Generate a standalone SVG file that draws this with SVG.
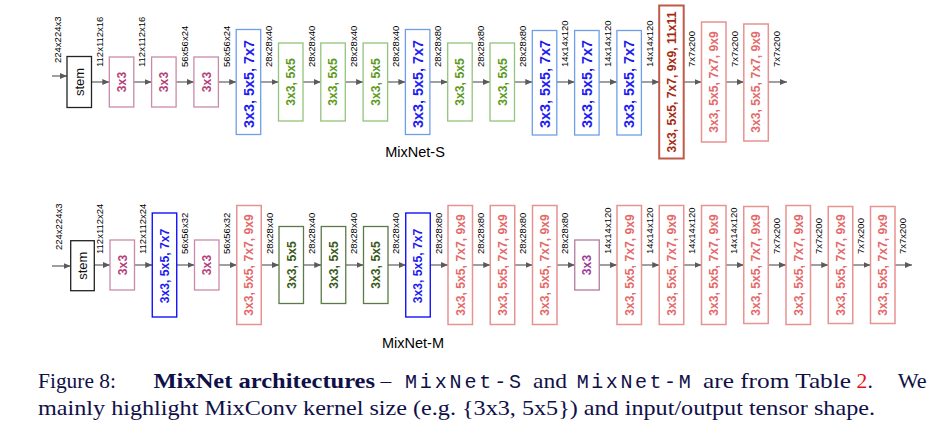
<svg xmlns="http://www.w3.org/2000/svg" width="948" height="446" viewBox="0 0 948 446">
<defs>
<marker id="ah" markerUnits="userSpaceOnUse" markerWidth="8" markerHeight="6" refX="7" refY="3" orient="auto">
<path d="M0,0 L7,3 L0,6 z" fill="#5a5a5a"/>
</marker>
<style>
.lbl{font-family:"Liberation Sans",Arial,sans-serif;font-size:9.5px;fill:#000}
.bt{font-family:"Liberation Sans",Arial,sans-serif;font-size:12.2px;font-weight:bold;text-anchor:middle}
.big{font-size:14.4px}
.box{fill:#fff;stroke-width:1.3}
.stem{stroke:#222}
.stemt{fill:#111;font-weight:normal;font-size:13px}
.m{stroke:#c98aa9}.mt{fill:#b5407a}
.p3{stroke:#b47aa0}.p3t{fill:#9c3c9a}
.b1{stroke:#6d9eeb}.bt1{fill:#1c1cf0}
.b2{stroke:#0000ff}.bt2{fill:#1c1cf0}
.g1{stroke:#93c47d}.gt1{fill:#5b9a22}
.g2{stroke:#5a7a48}.gt2{fill:#3a5a1a}
.dr{stroke:#c05a48;stroke-width:2}.drt{fill:#a62a10}
.pk{stroke:#e89292;stroke-width:1.5}.pkt{fill:#e46a6a}
.ar{stroke:#606060;stroke-width:1.2;fill:none;marker-end:url(#ah)}
.title{font-family:"Liberation Sans",Arial,sans-serif;font-size:14.5px;fill:#000;text-anchor:middle}
.cap{font-family:"Liberation Serif","Times New Roman",serif;font-size:21.5px;fill:#101048}
.mono{font-family:"Liberation Mono","Courier New",monospace;font-size:20px;fill:#101048}
</style>
</defs>

<g id="connectors">
<line class="ar" x1="52" y1="76" x2="67" y2="76"/>
<line class="ar" x1="91.5" y1="82" x2="109.3" y2="82"/>
<line class="ar" x1="133.8" y1="82" x2="151.6" y2="82"/>
<line class="ar" x1="176.1" y1="82" x2="193.9" y2="82"/>
<line class="ar" x1="218.4" y1="82" x2="236.2" y2="82"/>
<line class="ar" x1="260.7" y1="82" x2="278.5" y2="82"/>
<line class="ar" x1="303" y1="82" x2="320.8" y2="82"/>
<line class="ar" x1="345.3" y1="82" x2="363.1" y2="82"/>
<line class="ar" x1="387.6" y1="82" x2="405.4" y2="82"/>
<line class="ar" x1="429.9" y1="82" x2="447.7" y2="82"/>
<line class="ar" x1="472.2" y1="82" x2="490" y2="82"/>
<line class="ar" x1="514.5" y1="82" x2="532.3" y2="82"/>
<line class="ar" x1="556.8" y1="82" x2="574.6" y2="82"/>
<line class="ar" x1="599.1" y1="82" x2="616.9" y2="82"/>
<line class="ar" x1="641.4" y1="82" x2="659.2" y2="82"/>
<line class="ar" x1="683.7" y1="82" x2="701.5" y2="82"/>
<line class="ar" x1="726" y1="82" x2="743.8" y2="82"/>
<line class="ar" x1="768.3" y1="82" x2="787" y2="82"/>

<line class="ar" x1="52" y1="266" x2="70.7" y2="266"/>
<line class="ar" x1="94.3" y1="265" x2="110" y2="265"/>
<line class="ar" x1="134.5" y1="265" x2="152.25" y2="265"/>
<line class="ar" x1="176.75" y1="265" x2="194.5" y2="265"/>
<line class="ar" x1="219" y1="265" x2="236.75" y2="265"/>
<line class="ar" x1="261.25" y1="265" x2="279" y2="265"/>
<line class="ar" x1="303.5" y1="265" x2="321.25" y2="265"/>
<line class="ar" x1="345.75" y1="265" x2="363.5" y2="265"/>
<line class="ar" x1="388" y1="265" x2="405.75" y2="265"/>
<line class="ar" x1="430.25" y1="265" x2="448" y2="265"/>
<line class="ar" x1="472.5" y1="265" x2="490.25" y2="265"/>
<line class="ar" x1="514.75" y1="265" x2="532.5" y2="265"/>
<line class="ar" x1="557" y1="265" x2="574.75" y2="265"/>
<line class="ar" x1="599.25" y1="265" x2="617" y2="265"/>
<line class="ar" x1="641.5" y1="265" x2="659.25" y2="265"/>
<line class="ar" x1="683.75" y1="265" x2="701.5" y2="265"/>
<line class="ar" x1="726" y1="265" x2="743.75" y2="265"/>
<line class="ar" x1="768.25" y1="265" x2="786" y2="265"/>
<line class="ar" x1="810.5" y1="265" x2="828.25" y2="265"/>
<line class="ar" x1="852.75" y1="265" x2="870.5" y2="265"/>
<line class="ar" x1="895" y1="265" x2="912" y2="265"/>
</g>

<g id="labels-s">
<text class="lbl" transform="translate(61.3,63) rotate(-90)">224x224x3</text>
<text class="lbl" transform="translate(103,67) rotate(-90)">112x112x16</text>
<text class="lbl" transform="translate(145.3,67) rotate(-90)">112x112x16</text>
<text class="lbl" transform="translate(187.6,67) rotate(-90)">56x56x24</text>
<text class="lbl" transform="translate(229.9,67) rotate(-90)">56x56x24</text>
<text class="lbl" transform="translate(272.2,67) rotate(-90)">28x28x40</text>
<text class="lbl" transform="translate(314.5,67) rotate(-90)">28x28x40</text>
<text class="lbl" transform="translate(356.8,67) rotate(-90)">28x28x40</text>
<text class="lbl" transform="translate(399.1,67) rotate(-90)">28x28x40</text>
<text class="lbl" transform="translate(441.4,67) rotate(-90)">28x28x80</text>
<text class="lbl" transform="translate(483.7,67) rotate(-90)">28x28x80</text>
<text class="lbl" transform="translate(526,67) rotate(-90)">28x28x80</text>
<text class="lbl" transform="translate(568.3,67) rotate(-90)">14x14x120</text>
<text class="lbl" transform="translate(610.6,67) rotate(-90)">14x14x120</text>
<text class="lbl" transform="translate(652.9,67) rotate(-90)">14x14x120</text>
<text class="lbl" transform="translate(695.2,67) rotate(-90)">7x7x200</text>
<text class="lbl" transform="translate(737.5,67) rotate(-90)">7x7x200</text>
<text class="lbl" transform="translate(779.8,67) rotate(-90)">7x7x200</text>
</g>

<g id="s-stem"><rect class="box stem" x="67" y="56.5" width="24.5" height="51"/><text class="bt stemt" transform="translate(79.25,82) rotate(-90)" dy="0.36em">stem</text></g>
<g id="s-b1"><rect class="box m" x="109.3" y="57" width="24.5" height="50"/><text class="bt mt" transform="translate(121.55,82) rotate(-90)" dy="0.36em">3x3</text></g>
<g id="s-b2"><rect class="box m" x="151.6" y="57" width="24.5" height="50"/><text class="bt mt" transform="translate(163.85,82) rotate(-90)" dy="0.36em">3x3</text></g>
<g id="s-b3"><rect class="box m" x="193.9" y="57" width="24.5" height="50"/><text class="bt mt" transform="translate(206.15,82) rotate(-90)" dy="0.36em">3x3</text></g>
<g id="s-b4"><rect class="box b1" x="236.2" y="29.5" width="24.5" height="105"/><text class="bt big bt1" transform="translate(248.45,84) rotate(-90)" dy="0.36em">3x3, 5x5, 7x7</text></g>
<g id="s-b5"><rect class="box g1" x="278.5" y="43" width="24.5" height="78"/><text class="bt gt1" transform="translate(290.75,82) rotate(-90)" dy="0.36em">3x3, 5x5</text></g>
<g id="s-b6"><rect class="box g1" x="320.8" y="43" width="24.5" height="78"/><text class="bt gt1" transform="translate(333.05,82) rotate(-90)" dy="0.36em">3x3, 5x5</text></g>
<g id="s-b7"><rect class="box g1" x="363.1" y="43" width="24.5" height="78"/><text class="bt gt1" transform="translate(375.35,82) rotate(-90)" dy="0.36em">3x3, 5x5</text></g>
<g id="s-b8"><rect class="box b1" x="405.4" y="29.5" width="24.5" height="105"/><text class="bt big bt1" transform="translate(417.65,84) rotate(-90)" dy="0.36em">3x3, 5x5, 7x7</text></g>
<g id="s-b9"><rect class="box g1" x="447.7" y="43" width="24.5" height="78"/><text class="bt gt1" transform="translate(459.95,82) rotate(-90)" dy="0.36em">3x3, 5x5</text></g>
<g id="s-b10"><rect class="box g1" x="490" y="43" width="24.5" height="78"/><text class="bt gt1" transform="translate(502.25,82) rotate(-90)" dy="0.36em">3x3, 5x5</text></g>
<g id="s-b11"><rect class="box b1" x="532.3" y="30.5" width="24.5" height="104.5"/><text class="bt big bt1" transform="translate(544.55,84) rotate(-90)" dy="0.36em">3x3, 5x5, 7x7</text></g>
<g id="s-b12"><rect class="box b1" x="574.6" y="30.5" width="24.5" height="104.5"/><text class="bt big bt1" transform="translate(586.85,84) rotate(-90)" dy="0.36em">3x3, 5x5, 7x7</text></g>
<g id="s-b13"><rect class="box b1" x="616.9" y="30.5" width="24.5" height="104.5"/><text class="bt big bt1" transform="translate(629.15,84) rotate(-90)" dy="0.36em">3x3, 5x5, 7x7</text></g>
<g id="s-b14"><rect class="box dr" x="659.2" y="5.5" width="24.5" height="153"/><text class="bt drt" transform="translate(671.45,82) rotate(-90)" dy="0.36em">3x3, 5x5, 7x7, 9x9, 11x11</text></g>
<g id="s-b15"><rect class="box pk" x="701.5" y="22" width="24.5" height="120"/><text class="bt pkt" transform="translate(713.75,82) rotate(-90)" dy="0.36em">3x3, 5x5, 7x7, 9x9</text></g>
<g id="s-b16"><rect class="box pk" x="743.8" y="24" width="24.5" height="117"/><text class="bt pkt" transform="translate(756.05,82) rotate(-90)" dy="0.36em">3x3, 5x5, 7x7, 9x9</text></g>
<text id="title-s" class="title" x="415" y="157">MixNet-S</text>

<g id="labels-m">
<text class="lbl" transform="translate(61.6,250) rotate(-90)">224x224x3</text>
<text class="lbl" transform="translate(103.3,254) rotate(-90)">112x112x24</text>
<text class="lbl" transform="translate(145.8,254) rotate(-90)">112x112x24</text>
<text class="lbl" transform="translate(188,254) rotate(-90)">56x56x32</text>
<text class="lbl" transform="translate(230.3,254) rotate(-90)">56x56x32</text>
<text class="lbl" transform="translate(272.5,254) rotate(-90)">28x28x40</text>
<text class="lbl" transform="translate(314.8,254) rotate(-90)">28x28x40</text>
<text class="lbl" transform="translate(357,254) rotate(-90)">28x28x40</text>
<text class="lbl" transform="translate(399.3,254) rotate(-90)">28x28x40</text>
<text class="lbl" transform="translate(441.5,254) rotate(-90)">28x28x80</text>
<text class="lbl" transform="translate(483.8,254) rotate(-90)">28x28x80</text>
<text class="lbl" transform="translate(526,254) rotate(-90)">28x28x80</text>
<text class="lbl" transform="translate(568.3,254) rotate(-90)">28x28x80</text>
<text class="lbl" transform="translate(610.5,254) rotate(-90)">14x14x120</text>
<text class="lbl" transform="translate(652.8,254) rotate(-90)">14x14x120</text>
<text class="lbl" transform="translate(695,254) rotate(-90)">14x14x120</text>
<text class="lbl" transform="translate(737.3,254) rotate(-90)">14x14x120</text>
<text class="lbl" transform="translate(779.5,254) rotate(-90)">7x7x200</text>
<text class="lbl" transform="translate(821.8,254) rotate(-90)">7x7x200</text>
<text class="lbl" transform="translate(864,254) rotate(-90)">7x7x200</text>
<text class="lbl" transform="translate(906.3,254) rotate(-90)">7x7x200</text>
</g>

<g id="m-stem"><rect class="box stem" x="70.7" y="240.7" width="23.6" height="50"/><text class="bt stemt" transform="translate(82.5,265.7) rotate(-90)" dy="0.36em">stem</text></g>
<g id="m-b0"><rect class="box m" x="110" y="240" width="24.5" height="50"/><text class="bt mt" transform="translate(122.25,265) rotate(-90)" dy="0.36em">3x3</text></g>
<g id="m-b1"><rect class="box b2" x="152.25" y="213" width="24.5" height="104"/><text class="bt bt2" transform="translate(164.5,266) rotate(-90)" dy="0.36em">3x3, 5x5, 7x7</text></g>
<g id="m-b2"><rect class="box m" x="194.5" y="240" width="24.5" height="50"/><text class="bt mt" transform="translate(206.75,265) rotate(-90)" dy="0.36em">3x3</text></g>
<g id="m-b3"><rect class="box pk" x="236.75" y="205.5" width="24.5" height="119"/><text class="bt pkt" transform="translate(249,265) rotate(-90)" dy="0.36em">3x3, 5x5, 7x7, 9x9</text></g>
<g id="m-b4"><rect class="box g2" x="279" y="226.5" width="24.5" height="77"/><text class="bt gt2" transform="translate(291.25,265) rotate(-90)" dy="0.36em">3x3, 5x5</text></g>
<g id="m-b5"><rect class="box g2" x="321.25" y="226.5" width="24.5" height="77"/><text class="bt gt2" transform="translate(333.5,265) rotate(-90)" dy="0.36em">3x3, 5x5</text></g>
<g id="m-b6"><rect class="box g2" x="363.5" y="226.5" width="24.5" height="77"/><text class="bt gt2" transform="translate(375.75,265) rotate(-90)" dy="0.36em">3x3, 5x5</text></g>
<g id="m-b7"><rect class="box b2" x="405.75" y="213" width="24.5" height="104"/><text class="bt bt2" transform="translate(418,266) rotate(-90)" dy="0.36em">3x3, 5x5, 7x7</text></g>
<g id="m-b8"><rect class="box pk" x="448" y="205.5" width="24.5" height="119"/><text class="bt pkt" transform="translate(460.25,265) rotate(-90)" dy="0.36em">3x3, 5x5, 7x7, 9x9</text></g>
<g id="m-b9"><rect class="box pk" x="490.25" y="205.5" width="24.5" height="119"/><text class="bt pkt" transform="translate(502.5,265) rotate(-90)" dy="0.36em">3x3, 5x5, 7x7, 9x9</text></g>
<g id="m-b10"><rect class="box pk" x="532.5" y="205.5" width="24.5" height="119"/><text class="bt pkt" transform="translate(544.75,265) rotate(-90)" dy="0.36em">3x3, 5x5, 7x7, 9x9</text></g>
<g id="m-b11"><rect class="box p3" x="574.75" y="240" width="24.5" height="50"/><text class="bt p3t" transform="translate(587,265) rotate(-90)" dy="0.36em">3x3</text></g>
<g id="m-b12"><rect class="box pk" x="617" y="205.5" width="24.5" height="119"/><text class="bt pkt" transform="translate(629.25,265) rotate(-90)" dy="0.36em">3x3, 5x5, 7x7, 9x9</text></g>
<g id="m-b13"><rect class="box pk" x="659.25" y="205.5" width="24.5" height="119"/><text class="bt pkt" transform="translate(671.5,265) rotate(-90)" dy="0.36em">3x3, 5x5, 7x7, 9x9</text></g>
<g id="m-b14"><rect class="box pk" x="701.5" y="205.5" width="24.5" height="119"/><text class="bt pkt" transform="translate(713.75,265) rotate(-90)" dy="0.36em">3x3, 5x5, 7x7, 9x9</text></g>
<g id="m-b15"><rect class="box pk" x="743.75" y="206.5" width="24.5" height="117"/><text class="bt pkt" transform="translate(756,265) rotate(-90)" dy="0.36em">3x3, 5x5, 7x7, 9x9</text></g>
<g id="m-b16"><rect class="box pk" x="786" y="205.5" width="24.5" height="119"/><text class="bt pkt" transform="translate(798.25,265) rotate(-90)" dy="0.36em">3x3, 5x5, 7x7, 9x9</text></g>
<g id="m-b17"><rect class="box pk" x="828.25" y="206.5" width="24.5" height="117"/><text class="bt pkt" transform="translate(840.5,265) rotate(-90)" dy="0.36em">3x3, 5x5, 7x7, 9x9</text></g>
<g id="m-b18"><rect class="box pk" x="870.5" y="206.5" width="24.5" height="117"/><text class="bt pkt" transform="translate(882.75,265) rotate(-90)" dy="0.36em">3x3, 5x5, 7x7, 9x9</text></g>
<text id="title-m" class="title" x="413" y="348">MixNet-M</text>

<g id="caption">
<text class="cap" x="38" y="388" textLength="78" lengthAdjust="spacingAndGlyphs">Figure 8:</text>
<text class="cap" x="153.5" y="388" font-weight="bold" textLength="221.5" lengthAdjust="spacingAndGlyphs">MixNet architectures</text>
<text class="cap" x="380.5" y="388">–</text>
<text class="mono" x="405" y="388" textLength="116" lengthAdjust="spacing">MixNet-S</text>
<text class="cap" x="533" y="388" textLength="34" lengthAdjust="spacingAndGlyphs">and</text>
<text class="mono" x="576.7" y="388" textLength="114" lengthAdjust="spacing">MixNet-M</text>
<text class="cap" x="703" y="388" textLength="148" lengthAdjust="spacingAndGlyphs">are from Table</text>
<text class="cap" x="856.5" y="388" style="fill:#e8101a">2</text>
<text class="cap" x="867.5" y="388">.</text>
<text class="cap" x="897.7" y="388" textLength="29" lengthAdjust="spacingAndGlyphs">We</text>
<text class="cap" x="38" y="415" textLength="837" lengthAdjust="spacingAndGlyphs">mainly highlight MixConv kernel size (e.g. {3x3, 5x5}) and input/output tensor shape.</text>
</g>
</svg>
